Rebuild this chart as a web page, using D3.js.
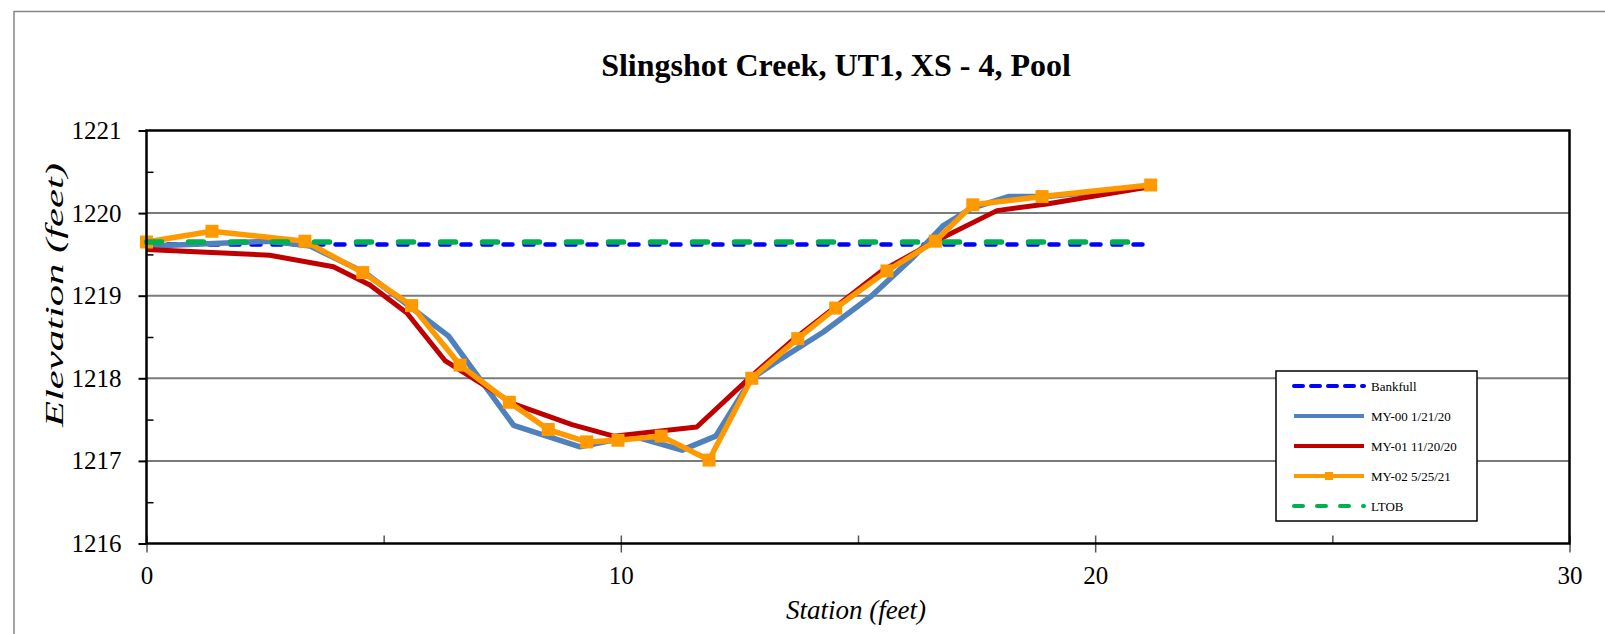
<!DOCTYPE html>
<html>
<head>
  <title>Slingshot Creek XS-4</title>
  <script src="https://cdn.jsdelivr.net/npm/d3@7/dist/d3.min.js"></script>
  <style>
    body { margin: 0; background: #fff; }
    text { font-family: "Liberation Serif", "Times New Roman", serif; fill: #000; }
  </style>
</head>
<body>
  <svg width="1605" height="634"></svg>
  <script>
    // survey data (station ft, elevation ft)
    const my00Station = [0, 2.6, 3.45, 4.6, 5.55, 6.37, 7.74, 9.14, 10.26, 11.29, 12.0, 12.76, 13.36, 14.27, 15.29, 16.17, 16.8, 17.36, 18.17, 18.98, 21.17];
    const my00Elev = [1219.60, 1219.66, 1219.60, 1219.28, 1218.87, 1218.51, 1217.43, 1217.17, 1217.30, 1217.13, 1217.30, 1218.00, 1218.23, 1218.56, 1219.00, 1219.47, 1219.85, 1220.05, 1220.20, 1220.20, 1220.32];

    const my01Station = [0, 2.6, 3.94, 4.71, 5.49, 6.30, 7.74, 8.97, 9.85, 11.6, 12.76, 13.64, 15.5, 16.63, 17.93, 18.98, 21.06];
    const my01Elev = [1219.56, 1219.49, 1219.35, 1219.13, 1218.79, 1218.21, 1217.69, 1217.44, 1217.30, 1217.41, 1218.03, 1218.47, 1219.30, 1219.66, 1220.03, 1220.11, 1220.31];

    const my02Station = [0, 1.38, 3.34, 4.56, 5.59, 6.61, 7.65, 8.47, 9.28, 9.94, 10.85, 11.86, 12.76, 13.73, 14.53, 15.61, 16.63, 17.42, 18.88, 21.17];
    const my02Elev = [1219.65, 1219.78, 1219.66, 1219.28, 1218.88, 1218.16, 1217.71, 1217.38, 1217.23, 1217.25, 1217.30, 1217.01, 1218.00, 1218.48, 1218.85, 1219.30, 1219.66, 1220.10, 1220.20, 1220.34];

    const bankfullStation = [0, 21.17];
    const bankfullElev = [1219.62, 1219.62];
    const ltobStation = [0, 21.17];
    const ltobElev = [1219.65, 1219.65];

    const xTicks = [0, 10, 20, 30];
    const xMinor = [5, 15, 25];
    const yTicks = [1216, 1217, 1218, 1219, 1220, 1221];
    const yMinor = [1216.5, 1217.5, 1218.5, 1219.5, 1220.5];

    const seriesNames = ['Bankfull', 'MY-00 1/21/20', 'MY-01 11/20/20', 'MY-02 5/25/21', 'LTOB'];

    const svg = d3.select('svg');
    const plot = { left: 146.5, right: 1569.5, top: 130.5, bottom: 543.5 };

    const x = d3.scaleLinear().domain([0, 30]).range([plot.left, plot.right]);
    const y = d3.scaleLinear().domain([1216, 1221]).range([plot.bottom, plot.top]);

    // outer chart border (left + top only visible)
    svg.append('path')
      .attr('d', 'M14,640V11.5H1610')
      .attr('fill', 'none')
      .attr('stroke', '#868686')
      .attr('stroke-width', 1.5);

    // title
    svg.append('text')
      .attr('x', 836).attr('y', 76)
      .attr('text-anchor', 'middle')
      .style('font-size', '32px')
      .style('font-weight', 'bold')
      .text('Slingshot Creek, UT1, XS - 4, Pool');

    // gridlines
    svg.append('g')
      .selectAll('line')
      .data(yTicks.slice(1, -1))
      .enter().append('line')
      .attr('x1', plot.left).attr('x2', plot.right)
      .attr('y1', d => y(d)).attr('y2', d => y(d))
      .attr('stroke', '#7a7a7a')
      .attr('stroke-width', 2);

    // axes
    const yAxis = svg.append('g')
      .attr('transform', `translate(${plot.left},0)`)
      .call(d3.axisLeft(y).tickValues(yTicks).tickSize(8).tickPadding(17).tickFormat(d3.format('d')));
    yAxis.select('.domain').remove();
    yAxis.selectAll('.tick line').attr('stroke-width', 2);
    yAxis.selectAll('text').style('font-size', '25px');

    const yMinorAxis = svg.append('g')
      .attr('transform', `translate(${plot.left},0)`)
      .call(d3.axisLeft(y).tickValues(yMinor).tickSize(-7).tickFormat(''));
    yMinorAxis.select('.domain').remove();
    yMinorAxis.selectAll('.tick line').attr('stroke-width', 1.5);

    const xAxis = svg.append('g')
      .attr('transform', `translate(0,${plot.bottom})`)
      .call(d3.axisBottom(x).tickValues(xTicks).tickSize(9).tickPadding(14).tickFormat(d3.format('d')));
    xAxis.select('.domain').remove();
    xAxis.selectAll('.tick line').attr('stroke', '#555').attr('stroke-width', 1.5);
    xAxis.selectAll('text').style('font-size', '25px');

    const xInner = svg.append('g')
      .attr('transform', `translate(0,${plot.bottom})`)
      .call(d3.axisBottom(x).tickValues(xTicks.concat(xMinor)).tickSize(-8).tickFormat(''));
    xInner.select('.domain').remove();
    xInner.selectAll('.tick line').attr('stroke', '#555').attr('stroke-width', 1.5);

    // axis titles
    svg.append('text')
      .attr('x', 856).attr('y', 619)
      .attr('text-anchor', 'middle')
      .style('font-size', '27px')
      .style('font-style', 'italic')
      .text('Station (feet)');

    svg.append('text')
      .attr('transform', 'translate(63,295) rotate(-90) scale(1.58,0.95)')
      .attr('text-anchor', 'middle')
      .style('font-size', '27px')
      .style('font-style', 'italic')
      .text('Elevation (feet)');

    // series
    const line = d3.line().x(d => x(d[0])).y(d => y(d[1]));
    const zip = (xs, ys) => xs.map((v, i) => [v, ys[i]]);

    const series = [
      { name: seriesNames[0], pts: zip(bankfullStation, bankfullElev), color: '#0000ff', width: 4.5, dash: '9,12', cap: 'round' },
      { name: seriesNames[1], pts: zip(my00Station, my00Elev), color: '#4f81bd', width: 5.5, dash: null, cap: 'butt' },
      { name: seriesNames[2], pts: zip(my01Station, my01Elev), color: '#c00000', width: 5, dash: null, cap: 'butt' },
      { name: seriesNames[3], pts: zip(my02Station, my02Elev), color: '#ff9900', width: 5.5, dash: null, cap: 'butt', marker: true },
      { name: seriesNames[4], pts: zip(ltobStation, ltobElev), color: '#00b050', width: 5.5, dash: '15,27', cap: 'round' }
    ];

    const lines = svg.append('g');
    series.forEach(s => {
      lines.append('path')
        .datum(s.pts)
        .attr('d', line)
        .attr('fill', 'none')
        .attr('stroke', s.color)
        .attr('stroke-width', s.width)
        .attr('stroke-linejoin', 'round')
        .attr('stroke-linecap', s.cap)
        .attr('stroke-dasharray', s.dash);
      if (s.marker) {
        lines.append('g')
          .selectAll('rect')
          .data(s.pts)
          .enter().append('rect')
          .attr('x', d => x(d[0]) - 6.5)
          .attr('y', d => y(d[1]) - 6.5)
          .attr('width', 13).attr('height', 13)
          .attr('fill', s.color);
      }
    });

    // plot frame
    svg.append('rect')
      .attr('x', plot.left).attr('y', plot.top)
      .attr('width', plot.right - plot.left)
      .attr('height', plot.bottom - plot.top)
      .attr('fill', 'none')
      .attr('stroke', '#000')
      .attr('stroke-width', 2.5);

    // legend
    const legend = svg.append('g').attr('transform', 'translate(1276,371)');
    legend.append('rect')
      .attr('width', 201).attr('height', 150)
      .attr('fill', '#fff')
      .attr('stroke', '#000')
      .attr('stroke-width', 1.5);

    const item = legend.selectAll('.item')
      .data(series)
      .enter().append('g')
      .attr('class', 'item')
      .attr('transform', (d, i) => `translate(0,${15 + i * 30})`);

    item.append('line')
      .attr('x1', 18).attr('x2', 88)
      .attr('stroke', d => d.color)
      .attr('stroke-width', 4)
      .attr('stroke-linecap', d => d.cap)
      .attr('stroke-dasharray', (d, i) => i === 0 ? '9,8' : (i === 4 ? '9,14' : null));

    item.filter(d => d.marker).append('rect')
      .attr('x', 49).attr('y', -4).attr('width', 8).attr('height', 8)
      .attr('fill', d => d.color);

    item.append('text')
      .attr('x', 95).attr('dy', '0.35em')
      .style('font-size', '13px')
      .text(d => d.name);
  </script>
</body>
</html>
